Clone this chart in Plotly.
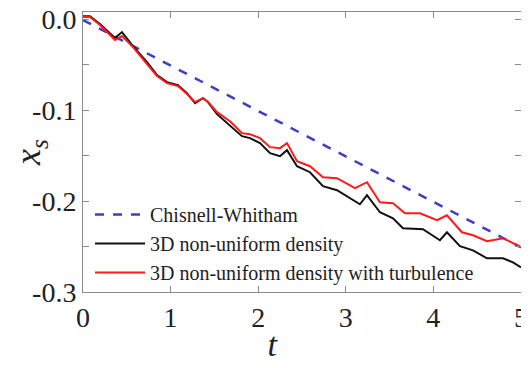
import plotly.graph_objects as go

# Chisnell-Whitham (straight dashed line)
t_cw = [0.0, 5.0]
x_cw = [-0.0006, -0.2508]

# 3D non-uniform density (black)
t_black = [0.0, 0.08, 0.194, 0.365, 0.445, 0.571, 0.731, 0.845, 0.959, 1.084,
           1.187, 1.279, 1.370, 1.427, 1.530, 1.678, 1.815, 1.906, 2.021, 2.135,
           2.249, 2.329, 2.443, 2.591, 2.740, 2.900, 3.162, 3.242, 3.390, 3.539,
           3.653, 3.881, 4.075, 4.155, 4.304, 4.452, 4.612, 4.795, 4.909, 5.0]
x_black = [0.0035, 0.0035, -0.0050, -0.0204, -0.0138, -0.0292, -0.0468, -0.0612, -0.0689, -0.0722,
           -0.0810, -0.0920, -0.0865, -0.0909, -0.1042, -0.1163, -0.1284, -0.1306, -0.1361, -0.1471,
           -0.1505, -0.1438, -0.1615, -0.1681, -0.1835, -0.1879, -0.2034, -0.1934, -0.2122, -0.2188,
           -0.2298, -0.2309, -0.2430, -0.2342, -0.2496, -0.2541, -0.2629, -0.2629, -0.2673, -0.2728]

# 3D non-uniform density with turbulence (red)
t_red = [0.0, 0.08, 0.194, 0.365, 0.445, 0.571, 0.731, 0.845, 0.959, 1.084,
         1.187, 1.279, 1.370, 1.427, 1.530, 1.678, 1.815, 1.906, 2.021, 2.135,
         2.249, 2.329, 2.443, 2.591, 2.740, 2.900, 3.105, 3.242, 3.390, 3.539,
         3.676, 3.847, 4.041, 4.155, 4.326, 4.452, 4.612, 4.795, 4.909, 5.0]
x_red = [0.0028, 0.0028, -0.0061, -0.0226, -0.0182, -0.0303, -0.0491, -0.0623, -0.0700, -0.0733,
         -0.0821, -0.0909, -0.0865, -0.0909, -0.1020, -0.1119, -0.1251, -0.1262, -0.1306, -0.1405,
         -0.1416, -0.1361, -0.1560, -0.1615, -0.1736, -0.1747, -0.1857, -0.1791, -0.2012, -0.2023,
         -0.2133, -0.2133, -0.2210, -0.2155, -0.2342, -0.2375, -0.2441, -0.2408, -0.2463, -0.2508]

x_tickvals = [0, 1, 2, 3, 4, 5]
x_ticktext = ["0", "1", "2", "3", "4", "5"]
y_tickvals = [0.0, -0.1, -0.2, -0.3]
y_ticktext = ["0.0", "-0.1", "-0.2", "-0.3"]
y_minor_tickvals = [-0.05, -0.15, -0.25]

SERIF = "Times New Roman, serif"

fig = go.Figure()
fig.add_trace(go.Scatter(x=t_cw, y=x_cw, mode="lines", name="Chisnell-Whitham",
                         line=dict(color="#3b3fc4", width=2.5, dash="dash")))
fig.add_trace(go.Scatter(x=t_black, y=x_black, mode="lines", name="3D non-uniform density",
                         line=dict(color="#111111", width=2)))
fig.add_trace(go.Scatter(x=t_red, y=x_red, mode="lines", name="3D non-uniform density with turbulence",
                         line=dict(color="#ff1a1a", width=2)))

axis_common = dict(showline=True, linecolor="#8a8a8a", linewidth=1, mirror="ticks",
                   ticks="inside", ticklen=6, tickcolor="#8a8a8a", showgrid=False, zeroline=False,
                   automargin=False, ticklabeloverflow="allow",
                   tickfont=dict(family=SERIF, size=28, color="#222222"))

fig.update_xaxes(range=[0, 5.0005], tickvals=x_tickvals, ticktext=x_ticktext,
                 title=dict(text="<i>t</i>" + "&nbsp;" * 7,
                            font=dict(family=SERIF, size=34, color="#222222"), standoff=0),
                 **axis_common)
fig.update_yaxes(range=[-0.3, 0.0083], tickvals=y_tickvals, ticktext=y_ticktext,
                 minor=dict(tickvals=y_minor_tickvals, ticks="inside", ticklen=6, tickcolor="#8a8a8a"),
                 title=dict(text="<i>x<sub>s</sub></i>", font=dict(family=SERIF, size=36, color="#222222"), standoff=8),
                 **axis_common)

# the page body adds an 8 px offset, so the figure is sized/margined to compensate
fig.update_layout(
    width=521, height=360,
    margin=dict(l=75, r=8, t=4, b=76),
    font=dict(family=SERIF, color="#222222"),
    paper_bgcolor="white", plot_bgcolor="white",
    showlegend=True,
    legend=dict(x=0.016, y=0.0, xanchor="left", yanchor="bottom",
                bgcolor="rgba(0,0,0,0)", font=dict(family=SERIF, size=20, color="#222222"),
                tracegroupgap=0, itemwidth=50),
)

fig.write_html("out.html")
